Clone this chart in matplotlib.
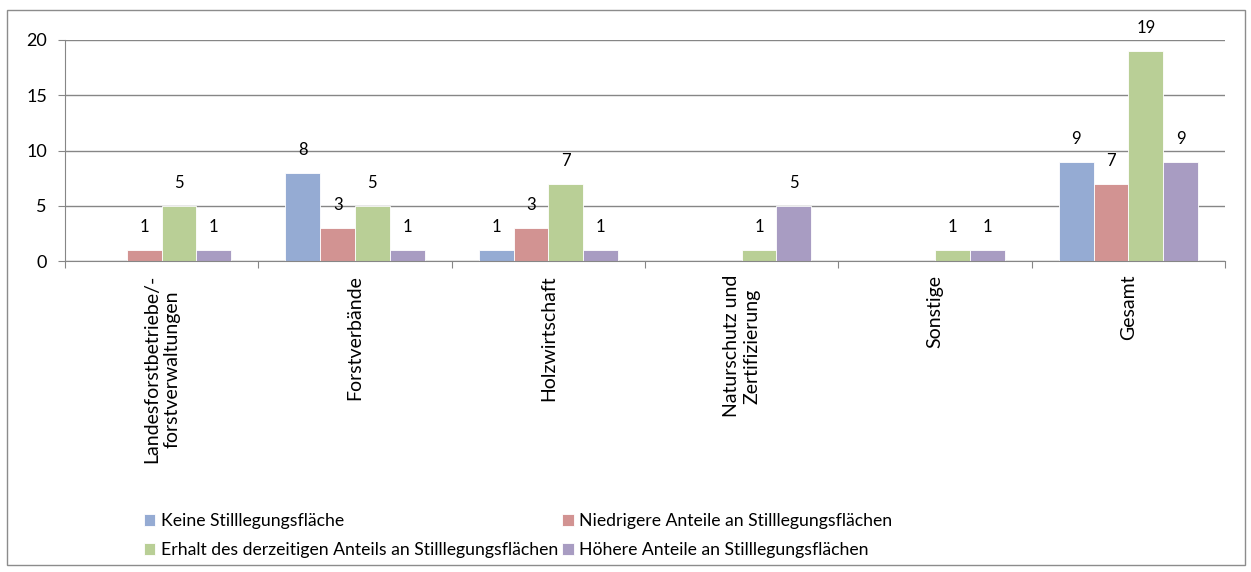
import matplotlib.pyplot as plt
import numpy as np
from matplotlib.patches import Rectangle

plt.rcParams['font.family'] = ['Lato', 'DejaVu Sans']

categories = ["Landesforstbetriebe/-\nforstverwaltungen", "Forstverbände", "Holzwirtschaft",
              "Naturschutz und\nZertifizierung", "Sonstige", "Gesamt"]
series_names = ["Keine Stilllegungsfläche",
                "Niedrigere Anteile an Stilllegungsflächen",
                "Erhalt des derzeitigen Anteils an Stilllegungsflächen",
                "Höhere Anteile an Stilllegungsflächen"]
keine = [0, 8, 1, 0, 0, 9]
niedriger = [1, 3, 3, 0, 0, 7]
erhalt = [5, 5, 7, 1, 1, 19]
hoeher = [1, 1, 1, 5, 1, 9]
colors = ["#95abd3", "#d29392", "#b9cf96", "#a89cc2"]

fig = plt.figure(figsize=(12.51, 5.72), dpi=100)
ax = fig.add_axes([65 / 1251, 1 - 261 / 572, 1160 / 1251, 221 / 572])

# outer frame like the spreadsheet chart area
fig.patches.append(Rectangle((7 / 1251, 7 / 572), 1238 / 1251, 555 / 572, transform=fig.transFigure,
                             fill=False, edgecolor="#8c8c8c", linewidth=1))

x = np.arange(len(categories))
w = 0.18
handles = []
for i, (vals, col, name) in enumerate(zip([keine, niedriger, erhalt, hoeher], colors, series_names)):
    pos = x + (i - 1.5) * w
    b = ax.bar(pos, vals, width=w, color=col, edgecolor="white", linewidth=0.6, label=name)
    handles.append(b)
    for p, v in zip(pos, vals):
        if v > 0:
            ax.annotate(str(v), (p, v), xytext=(0, 16.5), textcoords="offset points",
                        ha="center", va="center", fontsize=12)

ax.set_xlim(-0.5, len(categories) - 0.5)
ax.set_ylim(0, 20)
ax.set_yticks([0, 5, 10, 15, 20])
ax.yaxis.grid(True, color="#868686", linewidth=1)
ax.set_axisbelow(True)
for s in ["top", "right"]:
    ax.spines[s].set_visible(False)
for s in ["left", "bottom"]:
    ax.spines[s].set_color("#868686")
ax.tick_params(axis="y", length=5, color="#868686", labelsize=13, pad=8)
ax.set_xticks(np.arange(len(categories) + 1) - 0.5, minor=False)
ax.set_xticklabels([])
ax.set_xticks(x, minor=True)
ax.set_xticklabels(categories, minor=True, rotation=90, ha="center", va="top",
                   multialignment="center", fontsize=14)
ax.tick_params(axis="x", which="major", length=5, color="#868686")
ax.tick_params(axis="x", which="minor", length=0, pad=10)

# row-wise legend order like the original
leg_h = [handles[0], handles[2], handles[1], handles[3]]
leg_l = [series_names[0], series_names[2], series_names[1], series_names[3]]
fig.legend(leg_h, leg_l, loc="lower left", bbox_to_anchor=(144 / 1251, 14 / 572), ncol=2,
           frameon=False, fontsize=12.7, handlelength=0.65, handleheight=0.65, handletextpad=0.3,
           columnspacing=0.25, labelspacing=0.73, borderpad=0, borderaxespad=0)

fig.savefig("out.png", dpi=100)
